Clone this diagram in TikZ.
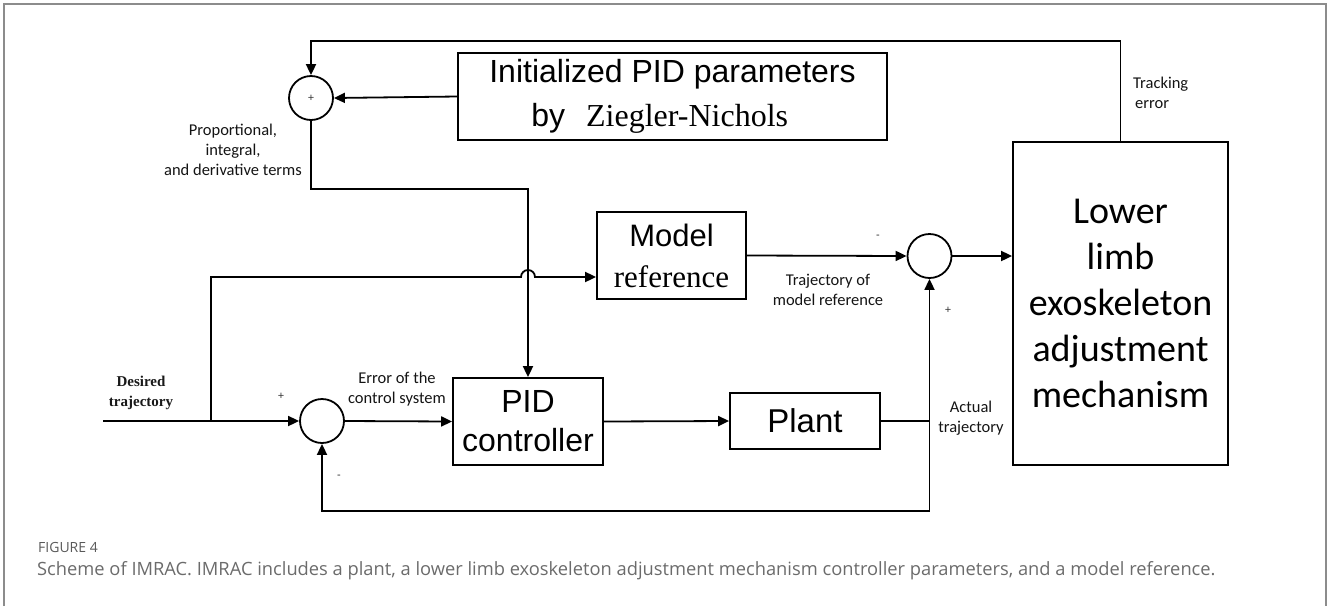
\documentclass[tikz,border=0pt]{standalone}
\usepackage{fontspec}
\setmainfont{Liberation Serif}
\newfontfamily\arialf{Liberation Sans}
\newfontfamily\calf{Carlito}
\newfontfamily\capf{Open Sans}
\usetikzlibrary{arrows.meta}

\begin{document}
\begin{tikzpicture}[x=1pt,y=-1pt,
  wire/.style={line width=1.8pt, line join=miter},
  arr/.style={wire, -{Triangle[length=11pt,width=10pt]}},
  blk/.style={draw, line width=1.8pt, inner sep=0pt, align=center},
  sumj/.style={draw, circle, line width=1.8pt, minimum size=44pt, inner sep=0pt},
  lbl/.style={font=\calf\fontsize{16.5}{20}\selectfont, text=black!92, align=center, inner sep=0pt},
  sgn/.style={font=\arialf\fontsize{11}{11}\selectfont, text=black!80, inner sep=0pt},
]
\useasboundingbox (0,0) rectangle (1328,606);

% panel frame
\draw[black!45, line width=1.5pt] (4,606) -- (4,4) -- (1326,4) -- (1326,606);

% blocks
\node[blk, minimum width=429pt, minimum height=87pt, align=left,
      font=\fontsize{32}{44}\selectfont] (ip) at (672.5,96.5)
  {{\arialf Initialized PID parameters}\\\hspace*{42pt}{\arialf by}\hspace{21pt}Ziegler-Nichols};
\node[blk, minimum width=149pt, minimum height=87pt,
      font=\fontsize{31}{41}\selectfont] (mr) at (671.5,255.5)
  {{\arialf Model}\\reference};
\node[blk, minimum width=150pt, minimum height=87pt,
      font=\arialf\fontsize{32}{39}\selectfont] (pid) at (528,421.5)
  {PID\\controller};
\node[blk, minimum width=150pt, minimum height=56pt,
      font=\arialf\fontsize{33}{40}\selectfont] (pl) at (805,421)
  {Plant};
\node[blk, minimum width=215pt, minimum height=323pt,
      font=\calf\fontsize{38}{46}\selectfont] (lb) at (1120.5,303.5)
  {Lower\\limb\\exoskeleton\\adjustment\\mechanism};

% summing junctions
\node[sumj] (s1) at (311,98) {};
\node[sgn] at (s1) {+};
\node[sumj] (s2) at (322,421) {};
\node[sumj] (s3) at (929.5,256) {};

% auxiliary points
\coordinate (top) at (311,41);
\coordinate (pk) at (311,189);
\coordinate (in) at (103,421);
\coordinate (sp) at (211,421);
\coordinate (br) at (211,277);
\coordinate (fb) at (929.5,511);

% tracking error feedback to the parameter sum
\draw[arr] (lb.north) -- (lb.north |- top) -- (top) -- (s1.north);
\draw[arr] (ip.west) -- (s1.east);
% tuned terms into the PID controller
\draw[arr] (s1.south) -- (pk) -- (pk -| pid.north) -- (pid.north);
% desired trajectory
\draw[arr] (in) -- (s2.west);
\draw[arr] (sp) -- (br) -- ([xshift=-7pt]pid.north |- br)
  arc[start angle=180, end angle=0, radius=7pt] -- (br -| mr.west);
% main loop
\draw[arr] (s2.east) -- (pid.west);
\draw[arr] (pid.east) -- (pl.west);
\draw[wire] (pl.east) -- (pl.east -| fb);
\draw[arr] (fb) -- (s3.south);
\draw[arr] (fb) -- (fb -| s2) -- (s2.south);
% model reference branch
\draw[arr] (mr.east) -- (s3.west);
\draw[arr] (s3.east) -- (s3.east -| lb.west);

% signal labels
\node[lbl] at (233,150) {Proportional,\\integral,\\and derivative terms};
\node[lbl, anchor=west, align=left] at (1133,93) {Tracking\\\hspace*{2pt}error};
\node[font=\bfseries\fontsize{15}{20}\selectfont, align=center, inner sep=0pt, text=black!90]
  at (141,393) {Desired\\trajectory};
\node[lbl] at (397,389) {Error of the\\control system};
\node[lbl] at (828,290) {Trajectory of\\model reference};
\node[lbl] at (971,418) {Actual\\trajectory};

% signs
\node[sgn] at (281,396) {+};
\node[sgn] at (339,477) {-};
\node[sgn] at (878,237) {-};
\node[sgn] at (948,310) {+};

% caption
\node[anchor=west, inner sep=0pt, font=\capf\fontsize{14}{16}\selectfont, text=black!65]
  at (38,547) {FIGURE 4};
\node[anchor=west, inner sep=0pt, font=\capf\fontsize{18.3}{20}\selectfont, text=black!58]
  at (37,571) {Scheme of IMRAC. IMRAC includes a plant, a lower limb exoskeleton adjustment mechanism controller parameters, and a model reference.};
\end{tikzpicture}
\end{document}
